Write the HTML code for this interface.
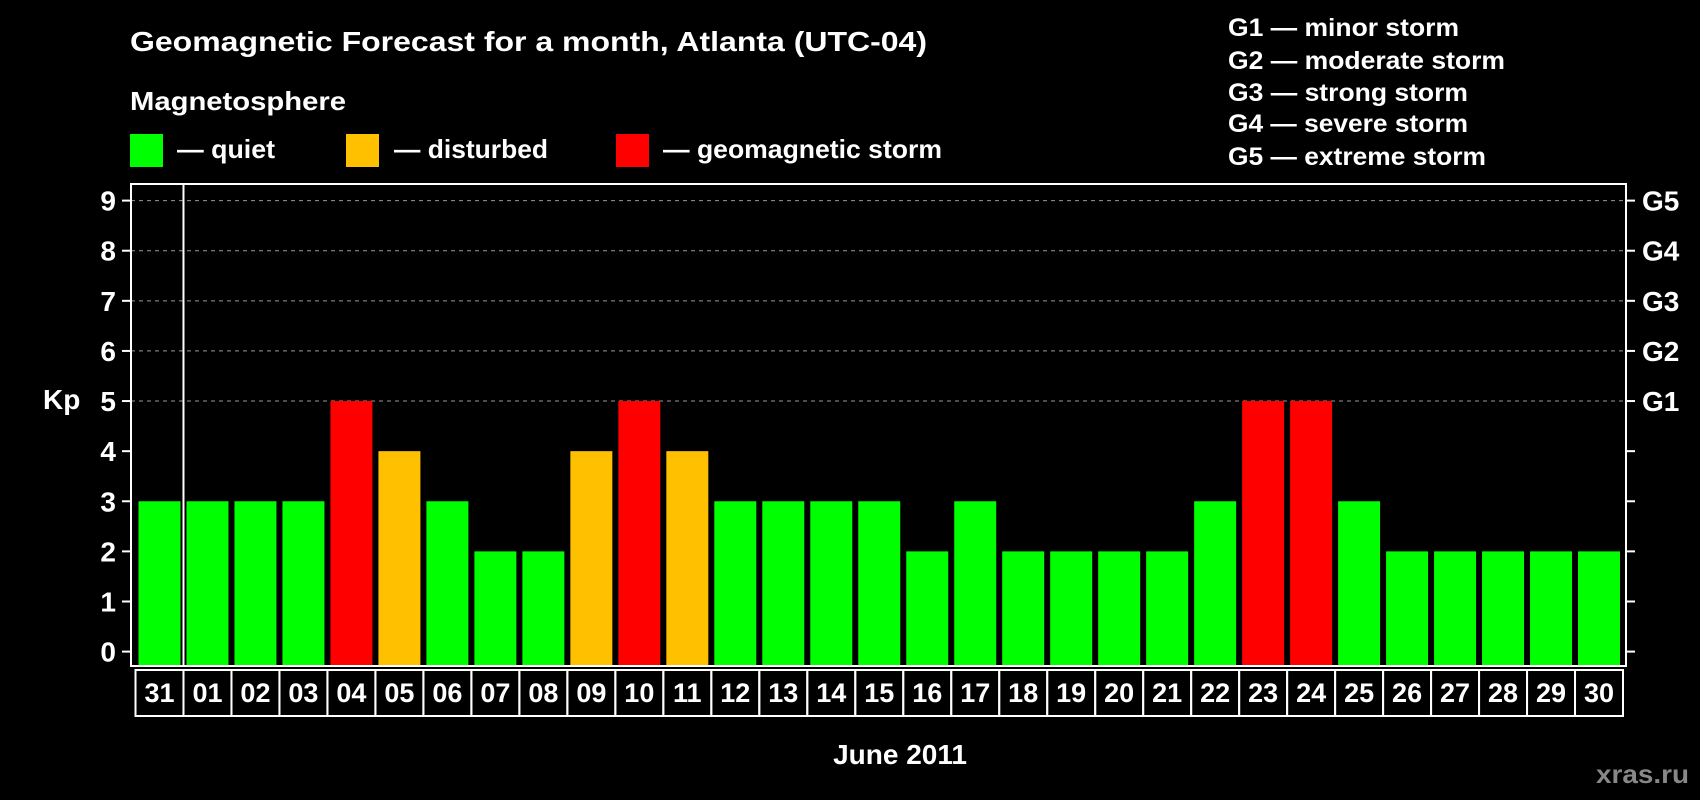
<!DOCTYPE html>
<html><head><meta charset="utf-8"><style>
html,body{margin:0;padding:0;background:#000;}
svg{display:block;font-family:"Liberation Sans",Arial,sans-serif;font-weight:bold;}
</style></head><body>
<svg id="chart" width="1700" height="800" viewBox="0 0 1700 800">
<rect x="0" y="0" width="1700" height="800" fill="#000"/>
<text x="130" y="51" font-size="28" fill="#fff" textLength="797" lengthAdjust="spacingAndGlyphs">Geomagnetic Forecast for a month, Atlanta (UTC-04)</text>
<text x="130" y="110" font-size="26" fill="#fff" textLength="216" lengthAdjust="spacingAndGlyphs">Magnetosphere</text>
<g>
<rect x="130" y="134" width="33" height="33" fill="#00ff00"/>
<text x="177" y="158" font-size="26" fill="#fff" textLength="98" lengthAdjust="spacingAndGlyphs">— quiet</text></g>
<g>
<rect x="346" y="134" width="33" height="33" fill="#ffc000"/>
<text x="394" y="158" font-size="26" fill="#fff" textLength="154" lengthAdjust="spacingAndGlyphs">— disturbed</text></g>
<g>
<rect x="616" y="134" width="33" height="33" fill="#ff0000"/>
<text x="663" y="158" font-size="26" fill="#fff" textLength="279" lengthAdjust="spacingAndGlyphs">— geomagnetic storm</text></g>
<g font-size="25" fill="#fff">
<text x="1228" y="36" textLength="231" lengthAdjust="spacingAndGlyphs">G1 — minor storm</text>
<text x="1228" y="69" textLength="277" lengthAdjust="spacingAndGlyphs">G2 — moderate storm</text>
<text x="1228" y="101" textLength="240" lengthAdjust="spacingAndGlyphs">G3 — strong storm</text>
<text x="1228" y="132" textLength="240" lengthAdjust="spacingAndGlyphs">G4 — severe storm</text>
<text x="1228" y="165" textLength="258" lengthAdjust="spacingAndGlyphs">G5 — extreme storm</text>
</g>
<text x="43" y="409" font-size="28" fill="#fff">Kp</text>
<text x="900" y="764" font-size="28" fill="#fff" text-anchor="middle">June 2011</text>
<text x="1596" y="783" font-size="26" fill="#888" textLength="93" lengthAdjust="spacingAndGlyphs">xras.ru</text>
<g id="plot"></g>
</svg>
<script>
const days = ["31","01","02","03","04","05","06","07","08","09","10","11","12","13","14","15","16","17","18","19","20","21","22","23","24","25","26","27","28","29","30"];
const kpValues = [3,3,3,3,5,4,3,2,2,4,5,4,3,3,3,3,2,3,2,2,2,2,3,5,5,3,2,2,2,2,2];
const yTicks = [0,1,2,3,4,5,6,7,8,9];
const gLabels = ["G1","G2","G3","G4","G5"];
const gLevels = [5,6,7,8,9];

const NS = "http://www.w3.org/2000/svg";
const plot = document.getElementById("plot");
const L = 131, R = 1626, T = 184, B = 666;
const slot0 = 135.5, pitch = (1623 - 135.5) / days.length;
function yScale(v){ return 651.6 - v * (651.6 - 200.6) / 9; }
function xSlot(i){ return slot0 + i * pitch; }
function mk(tag, attrs){ const e = document.createElementNS(NS, tag); for (const k in attrs) e.setAttribute(k, attrs[k]); plot.appendChild(e); return e; }
function color(v){ return v >= 5 ? "#ff0000" : (v >= 4 ? "#ffc000" : "#00ff00"); }

gLevels.forEach(function(v){
  const g = mk("line", {x1: L, x2: R, y1: yScale(v), y2: yScale(v), stroke: "#999", "stroke-width": 1, "stroke-dasharray": "4,4"});
  
  
});
kpValues.forEach(function(v, i){
  const x = xSlot(i) + 3, w = pitch - 6;
  const b = mk("rect", {x: x, y: yScale(v), width: w, height: B - 1 - yScale(v), fill: color(v)});
  
  
});
const fr = mk("rect", {x: L, y: T, width: R - L, height: B - T, fill: "none", stroke: "#fff", "stroke-width": 2});


const sep = mk("line", {x1: xSlot(1), x2: xSlot(1), y1: T, y2: B, stroke: "#fff", "stroke-width": 2});


yTicks.forEach(function(v){
  const y = yScale(v);
  const t1 = mk("line", {x1: 122, x2: L, y1: y, y2: y, stroke: "#fff", "stroke-width": 2});
  
  
  const t2 = mk("line", {x1: R, x2: 1635, y1: y, y2: y, stroke: "#fff", "stroke-width": 2});
  
  
  const tx = mk("text", {x: 116, y: y + 10, "font-size": 28, fill: "#fff", "text-anchor": "end"});
  tx.textContent = String(v);
  
  
});
gLabels.forEach(function(g, i){
  const tx = mk("text", {x: 1642, y: yScale(gLevels[i]) + 10, "font-size": 28, fill: "#fff"});
  tx.textContent = g;
  
  
});
days.forEach(function(d, i){
  const x = xSlot(i);
  const bx = mk("rect", {x: x, y: 670, width: pitch, height: 46, fill: "none", stroke: "#fff", "stroke-width": 2});
  
  
  const tx = mk("text", {x: x + pitch / 2, y: 702, "font-size": 27, fill: "#fff", "text-anchor": "middle"});
  tx.textContent = d;
  
  
});
</script>
</body></html>
